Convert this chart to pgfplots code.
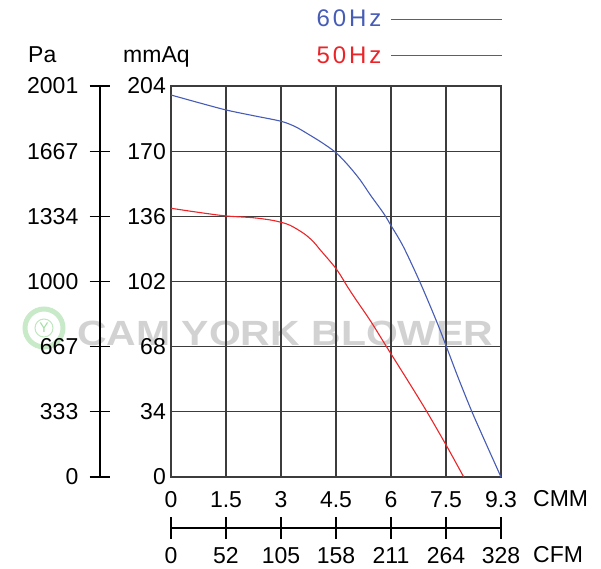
\documentclass[border=0pt]{standalone}
\usepackage{pgfplots}
\pgfplotsset{compat=1.18}
\usepackage{fontspec}
\setmainfont{Liberation Sans}
\definecolor{c60}{RGB}{70,92,182}
\definecolor{c50}{RGB}{236,36,40}
\definecolor{gridc}{RGB}{60,60,60}
\newcommand{\lbl}{\fontsize{23}{27}\selectfont}
\begin{document}
\begin{tikzpicture}[x=1pt,y=1pt]
\path[use as bounding box] (0,0) rectangle (601,568);
% watermark
\node[anchor=base west, inner sep=0pt, text=gray!35, xscale=1.17, font=\fontsize{35}{35}\selectfont\bfseries] at (77,223) {CAM YORK BLOWER};
\draw[green!45!gray!30, line width=5pt] (44,240) circle (19);
\draw[green!45!gray!35, line width=1pt] (44,240) circle (9);
\node[text=green!45!gray!50, font=\fontsize{14}{14}\selectfont] at (44,240) {Y};
% unit labels
\node[anchor=base west, inner sep=0pt, font=\lbl] at (28,505) {Pa};
\node[anchor=base west, inner sep=0pt, font=\lbl] at (123,505) {mmAq};
\node[anchor=west, inner sep=0pt, font=\lbl] at (533,69) {CMM};
\node[anchor=west, inner sep=0pt, font=\lbl] at (533,13) {CFM};
% main axis
\begin{axis}[at={(171pt,91pt)}, anchor=south west, scale only axis,
  width=330pt, height=391pt,
  xmin=0, xmax=9.3, ymin=0, ymax=204,
  xtick={0,1.55,3.1,4.65,6.2,7.75,9.3},
  xticklabels={0,1.5,3,4.5,6,7.5,9.3},
  ytick={0,34,68,102,136,170,204},
  yticklabels={0,34,68,102,136,170,204},
  grid=major, grid style={gridc, line width=1.2pt},
  axis line style={gridc, line width=1.2pt},
  major tick length=0pt,
  tick label style={font=\lbl},
  /pgf/number format/assume math mode=true,
  yticklabel style={anchor=east, inner sep=0pt, xshift=-5pt},
  xticklabel style={anchor=north, inner sep=0pt, yshift=-14pt},
  legend plot pos=right,
  legend style={draw=none, fill=none, at={(1.005,1.195)}, anchor=north east,
    font=\fontsize{24}{28}\selectfont\addfontfeature{LetterSpace=12}, inner sep=0pt, row sep=18.5pt,
    nodes={inner sep=0pt}},
  legend image code/.code={\path (0pt,0pt); \draw[#1] (9pt,0pt) -- (120pt,0pt);},
  clip=false]
\addplot[c60, line width=1.1pt, smooth] coordinates {
(0,199.3)(0.8,195.2)(1.55,191.5)(2.3,188.6)(3.1,185.6)(3.5,182.8)(3.83,179.3)
(4.25,174.5)(4.65,169.2)(5.0,162.5)(5.33,155)(5.62,147.1)(5.99,137.6)(6.21,130.9)
(6.55,120.1)(7.03,101.1)(7.5,80.5)(7.78,67.1)(8.1,51.5)(8.48,34.1)(8.9,16.5)(9.3,0)};
\addlegendentry{\textcolor{c60}{60Hz}}
\addplot[c50, line width=1.1pt, smooth] coordinates {
(0,140.2)(0.8,138)(1.55,136.2)(2.3,135.3)(2.8,134.1)(3.1,132.9)(3.36,131.3)
(3.74,127.1)(4.0,123)(4.21,118.4)(4.66,108.5)(5.0,98.5)(5.24,91.8)(5.62,81.5)
(6.09,67.5)(6.7,49.5)(7.21,34.1)(7.78,15.8)(8.25,0)};
\addlegendentry{\textcolor{c50}{50Hz}}
\end{axis}
% Pa axis
\begin{axis}[at={(100pt,91pt)}, anchor=south west, scale only axis,
  width=1pt, height=391pt, xmin=0, xmax=1, ymin=0, ymax=204,
  axis y line*=left, axis x line=none,
  axis line style={black, line width=1.2pt, -},
  ytick={0,34,68,102,136,170,204},
  yticklabels={0,333,667,1000,1334,1667,2001},
  tick align=center, major tick length=21pt,
  ytick style={black, line width=1.2pt},
  tick label style={font=\lbl},
  yticklabel style={anchor=east, inner sep=0pt, xshift=-11pt}]
\end{axis}
% CFM axis
\begin{axis}[at={(171pt,40pt)}, anchor=south west, scale only axis,
  width=330pt, height=1pt, xmin=0, xmax=9.3, ymin=0, ymax=1,
  axis x line*=bottom, axis y line=none,
  axis line style={black, line width=1.2pt, -},
  xtick={0,1.55,3.1,4.65,6.2,7.75,9.3},
  xticklabels={0,52,105,158,211,264,328},
  tick align=center, major tick length=22pt,
  xtick style={black, line width=1.2pt},
  tick label style={font=\lbl},
  xticklabel style={anchor=north, inner sep=0pt, yshift=-8pt}]
\end{axis}
\end{tikzpicture}
\end{document}
